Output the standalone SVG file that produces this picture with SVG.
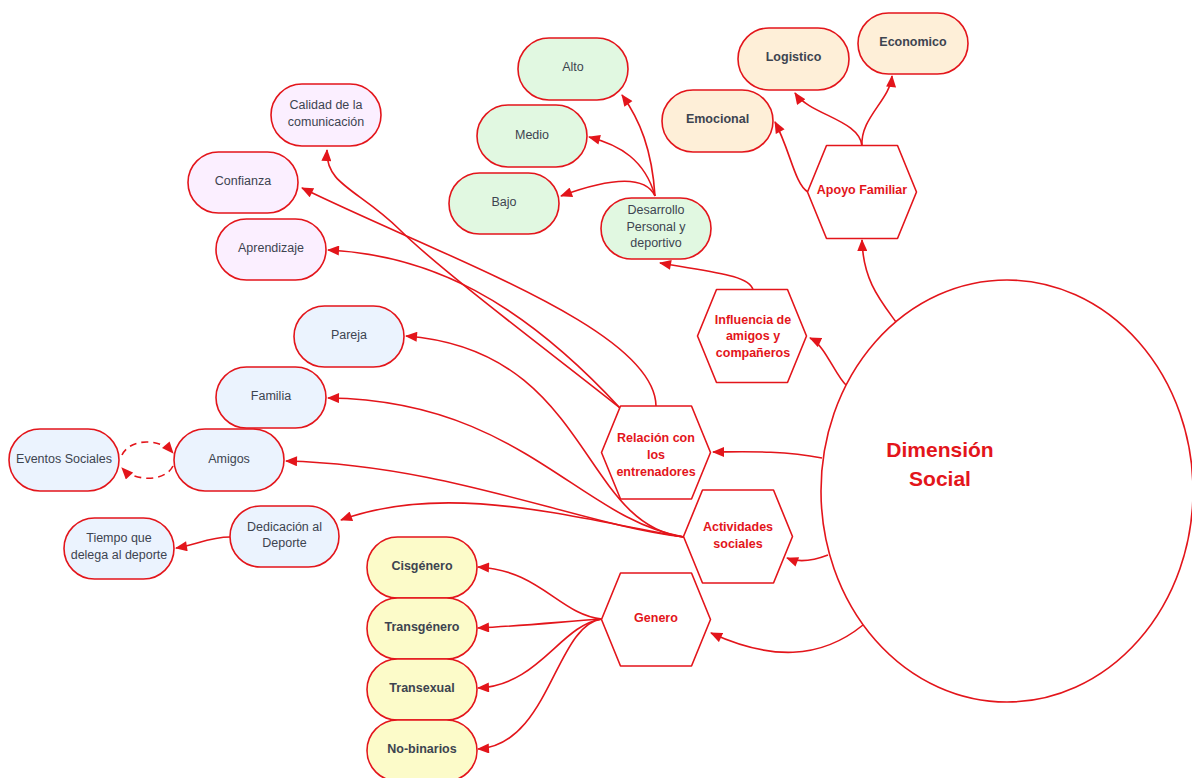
<svg xmlns="http://www.w3.org/2000/svg" width="1192" height="778" viewBox="0 0 1192 778">
<defs>
<style>
.pill{stroke:#e3151b;stroke-width:1.6}
.hex{fill:#fff;stroke:#e3151b;stroke-width:1.6;stroke-linejoin:round}
.or{fill:#feefd8}.gr{fill:#e1f8e1}.pk{fill:#fbefff}.bl{fill:#ebf3fe}.ye{fill:#fcfbc9}
.t{font-family:"Liberation Sans",Arial,sans-serif;font-size:12.5px;fill:#3d4450;text-anchor:middle;dominant-baseline:central}
.b{font-weight:bold}
.h{font-family:"Liberation Sans",Arial,sans-serif;font-size:12.5px;font-weight:bold;fill:#e3151b;text-anchor:middle;dominant-baseline:central}
.c{fill:none;stroke:#e3151b;stroke-width:1.6}
.d{stroke-dasharray:7,5}
</style>
<marker id="ah" viewBox="0 0 12 10" refX="11" refY="5" markerWidth="13" markerHeight="10" markerUnits="userSpaceOnUse" orient="auto">
<path d="M0,0 L12,5 L0,10 z" fill="#e3151b"/>
</marker>
</defs>
<rect width="1192" height="778" fill="#fff"/>

<g id="connectors">
<path class="c" marker-end="url(#ah)" d="M862,146 C860,120 810,115 795,93"/>
<path class="c" marker-end="url(#ah)" d="M862,146 C860,118 890,100 892,76"/>
<path class="c" marker-end="url(#ah)" d="M808,192 C795,185 790,150 775,122"/>
<path class="c" marker-end="url(#ah)" d="M896,322 C880,300 863,280 862,240"/>
<path class="c" marker-end="url(#ah)" d="M846,385 C835,375 825,345 810,338"/>
<path class="c" marker-end="url(#ah)" d="M753,290 C750,275 710,272 660,263"/>
<path class="c" marker-end="url(#ah)" d="M655,196 C652,150 640,120 622,95"/>
<path class="c" marker-end="url(#ah)" d="M655,196 C645,160 620,145 589,137"/>
<path class="c" marker-end="url(#ah)" d="M655,196 C645,175 610,178 561,196"/>
<path class="c" marker-end="url(#ah)" d="M822,458 C780,450 740,452 713,452"/>
<path class="c" marker-end="url(#ah)" d="M828,555 C815,560 800,563 787,558"/>
<path class="c" marker-end="url(#ah)" d="M863,625 C820,660 770,660 711,633"/>
<path class="c" marker-end="url(#ah)" d="M656,406 C655,330 450,260 302,188"/>
<path class="c" marker-end="url(#ah)" d="M620,408 C560,360 440,270 400,230 C360,190 325,185 327,150"/>
<path class="c" marker-end="url(#ah)" d="M620,408 C520,300 430,255 328,250"/>
<path class="c" marker-end="url(#ah)" d="M684,537 C580,525 590,350 406,336"/>
<path class="c" marker-end="url(#ah)" d="M684,537 C580,520 520,400 328,398"/>
<path class="c" marker-end="url(#ah)" d="M684,537 C580,525 450,465 286,461"/>
<path class="c" marker-end="url(#ah)" d="M684,537 C580,520 450,480 341,520"/>
<path class="c" marker-end="url(#ah)" d="M230,537 C210,537 195,545 176,548"/>
<path class="c d" marker-end="url(#ah)" d="M122,455 C130,438 160,438 173,453"/>
<path class="c d" marker-end="url(#ah)" d="M173,466 C165,482 135,482 122,468"/>
<path class="c" marker-end="url(#ah)" d="M602,619 C560,615 540,570 478,567"/>
<path class="c" marker-end="url(#ah)" d="M602,619 C560,622 520,626 478,628"/>
<path class="c" marker-end="url(#ah)" d="M602,619 C560,625 540,685 478,688"/>
<path class="c" marker-end="url(#ah)" d="M602,619 C555,625 550,745 478,749"/>
</g>

<g id="dimension-social">
<ellipse cx="1007" cy="491" rx="186" ry="211" fill="#fff" stroke="#e3151b" stroke-width="1.6"/>
<text x="940" y="449" font-family="Liberation Sans, Arial, sans-serif" font-size="21" font-weight="bold" fill="#e3151b" text-anchor="middle" dominant-baseline="central">Dimensión</text>
<text x="940" y="478" font-family="Liberation Sans, Arial, sans-serif" font-size="21" font-weight="bold" fill="#e3151b" text-anchor="middle" dominant-baseline="central">Social</text>
</g>

<g id="apoyo-familiar"><path class="hex" d="M807.5,192 L826.5,145.5 L897.5,145.5 L916.5,192 L897.5,238.5 L826.5,238.5 Z"/><text class="h" x="862" y="190">Apoyo Familiar</text></g>
<g id="influencia"><path class="hex" d="M697.5,336 L716.5,289.5 L787.5,289.5 L806.5,336 L787.5,382.5 L716.5,382.5 Z"/><text class="h" x="753" y="320">Influencia de</text><text class="h" x="753" y="336">amigos y</text><text class="h" x="753" y="353">compañeros</text></g>
<g id="relacion"><path class="hex" d="M601.5,452.5 L620.5,406 L691.5,406 L710.5,452.5 L691.5,499 L620.5,499 Z"/><text class="h" x="656" y="438">Relación con</text><text class="h" x="656" y="455">los</text><text class="h" x="656" y="472">entrenadores</text></g>
<g id="actividades"><path class="hex" d="M683.5,536.5 L702.5,490 L773.5,490 L792.5,536.5 L773.5,583 L702.5,583 Z"/><text class="h" x="738" y="527">Actividades</text><text class="h" x="738" y="544">sociales</text></g>
<g id="genero"><path class="hex" d="M601.5,619.5 L620.5,573 L691.5,573 L710.5,619.5 L691.5,666 L620.5,666 Z"/><text class="h" x="656" y="618">Genero</text></g>

<g id="logistico"><rect class="pill or" x="738" y="28" width="111" height="62" rx="31"/><text class="t b" x="793.5" y="57">Logistico</text></g>
<g id="economico"><rect class="pill or" x="858" y="13" width="110" height="61" rx="30.5"/><text class="t b" x="913" y="42">Economico</text></g>
<g id="emocional"><rect class="pill or" x="662" y="90" width="111" height="62" rx="31"/><text class="t b" x="717.5" y="119">Emocional</text></g>

<g id="alto"><rect class="pill gr" x="518" y="38" width="110" height="62" rx="31"/><text class="t" x="573" y="67">Alto</text></g>
<g id="medio"><rect class="pill gr" x="477" y="105" width="110" height="62" rx="31"/><text class="t" x="532" y="135">Medio</text></g>
<g id="bajo"><rect class="pill gr" x="449" y="173" width="110" height="61" rx="30.5"/><text class="t" x="504" y="202">Bajo</text></g>
<g id="desarrollo"><rect class="pill gr" x="601" y="198" width="110" height="61" rx="30.5"/><text class="t" x="656" y="210">Desarrollo</text><text class="t" x="656" y="227">Personal y</text><text class="t" x="656" y="243">deportivo</text></g>

<g id="calidad"><rect class="pill pk" x="271" y="84" width="110" height="62" rx="31"/><text class="t" x="326" y="105">Calidad de la</text><text class="t" x="326" y="122">comunicación</text></g>
<g id="confianza"><rect class="pill pk" x="188" y="152" width="110" height="61" rx="30.5"/><text class="t" x="243" y="181">Confianza</text></g>
<g id="aprendizaje"><rect class="pill pk" x="216" y="219" width="110" height="61" rx="30.5"/><text class="t" x="271" y="248">Aprendizaje</text></g>

<g id="pareja"><rect class="pill bl" x="294" y="306" width="110" height="61" rx="30.5"/><text class="t" x="349" y="335">Pareja</text></g>
<g id="familia"><rect class="pill bl" x="216" y="367" width="110" height="61" rx="30.5"/><text class="t" x="271" y="396">Familia</text></g>
<g id="amigos"><rect class="pill bl" x="174" y="429" width="110" height="62" rx="31"/><text class="t" x="229" y="459">Amigos</text></g>
<g id="eventos"><rect class="pill bl" x="9" y="429" width="110" height="62" rx="31"/><text class="t" x="64" y="459">Eventos Sociales</text></g>
<g id="dedicacion"><rect class="pill bl" x="230" y="506" width="109" height="61" rx="30.5"/><text class="t" x="284.5" y="527">Dedicación al</text><text class="t" x="284.5" y="543">Deporte</text></g>
<g id="tiempo"><rect class="pill bl" x="64" y="518" width="110" height="61" rx="30.5"/><text class="t" x="119" y="538">Tiempo que</text><text class="t" x="119" y="555">delega al deporte</text></g>

<g id="cisgenero"><rect class="pill ye" x="367" y="537" width="110" height="61" rx="30.5"/><text class="t b" x="422" y="566">Cisgénero</text></g>
<g id="transgenero"><rect class="pill ye" x="367" y="598" width="110" height="61" rx="30.5"/><text class="t b" x="422" y="627">Transgénero</text></g>
<g id="transexual"><rect class="pill ye" x="367" y="659" width="110" height="61" rx="30.5"/><text class="t b" x="422" y="688">Transexual</text></g>
<g id="nobinarios"><rect class="pill ye" x="367" y="720" width="110" height="61" rx="30.5"/><text class="t b" x="422" y="749">No-binarios</text></g>
</svg>
